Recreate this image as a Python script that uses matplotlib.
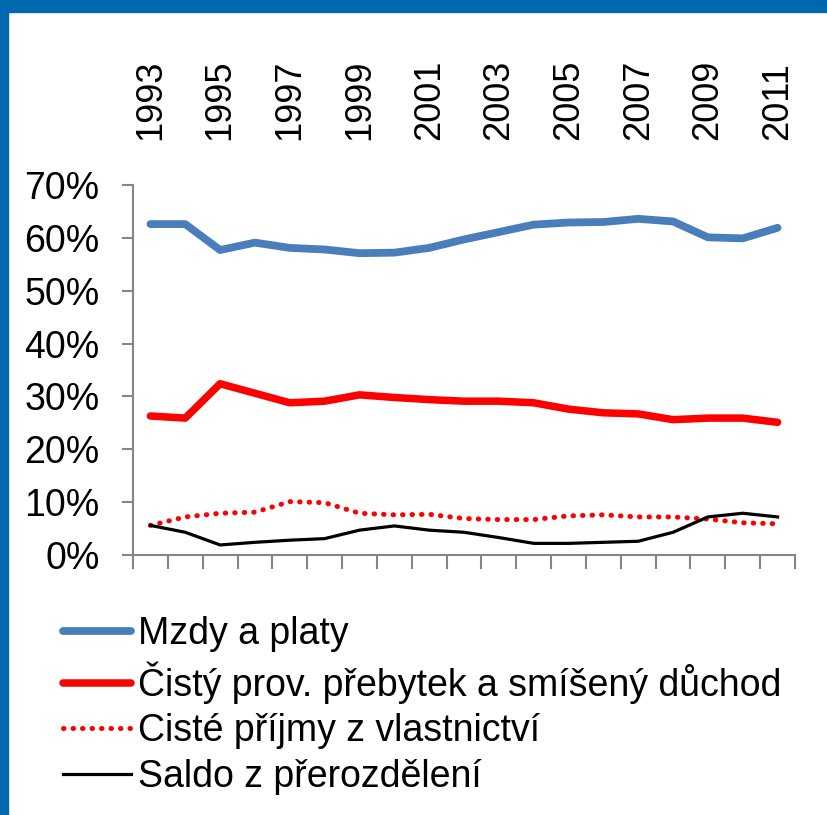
import numpy as np
import matplotlib
matplotlib.use("Agg")
import matplotlib.pyplot as plt
from matplotlib.patches import Rectangle

# ---------------- Data ----------------
years = list(range(1993, 2012))
mzdy = [62.6, 62.6, 57.7, 59.1, 58.1, 57.8, 57.1, 57.2, 58.1, 59.7,
        61.1, 62.5, 62.9, 63.0, 63.6, 63.1, 60.1, 59.9, 61.9]
prebytek = [26.3, 25.9, 32.4, 30.6, 28.8, 29.1, 30.3, 29.8, 29.4, 29.1,
            29.1, 28.8, 27.6, 26.9, 26.7, 25.6, 25.9, 25.9, 25.1]
vlastnictvi = [5.6, 7.2, 7.9, 8.1, 10.1, 9.9, 7.9, 7.6, 7.7, 6.9,
               6.7, 6.7, 7.4, 7.6, 7.2, 7.2, 6.8, 6.1, 5.9]
saldo = [5.6, 4.3, 1.9, 2.4, 2.8, 3.1, 4.7, 5.5, 4.7, 4.3,
         3.3, 2.2, 2.2, 2.4, 2.6, 4.3, 7.2, 7.9, 7.2]
labels = ["Mzdy a platy",
          "Čistý prov. přebytek a smíšený důchod",
          "Cisté příjmy z vlastnictví",
          "Saldo z přerozdělení"]

plt.rcParams['font.family'] = ['Liberation Sans', 'DejaVu Sans']
FS = 27

# ---------------- Figure ----------------
fig = plt.figure(figsize=(8.28, 8.15), dpi=100)
W, H = 828, 815
fig.patches.append(Rectangle((0, 1 - 12 / H), 1, 12 / H, transform=fig.transFigure,
                             color="#0068AF", zorder=0))
fig.patches.append(Rectangle((0, 0), 8 / W, 1, transform=fig.transFigure,
                             color="#0068AF", zorder=0))

ax = fig.add_axes([133 / W, 1 - 555 / H, (795 - 133) / W, (555 - 185) / H])
x = np.arange(len(years))

l1, = ax.plot(x, mzdy, color="#4A7EBB", lw=5.6, solid_capstyle="round")
l2, = ax.plot(x, prebytek, color="#FF0000", lw=5.4, solid_capstyle="round")
l3, = ax.plot(x, vlastnictvi, color="#FF0000", lw=3.6, linestyle=(0, (0.1, 1.8)),
              dash_capstyle="round")
l4, = ax.plot(x, saldo, color="black", lw=2.3)

ax.set_xlim(-0.5, len(years) - 0.5)
ax.set_ylim(0, 70)
ax.set_yticks(np.arange(0, 71, 10))
ax.set_yticklabels([f"{v}%" for v in range(0, 71, 10)])

# year labels on top, boundary ticks at bottom
ax.set_xticks(x[::2])
ax.set_xticklabels([str(y) for y in years[::2]])
ax.set_xticks(np.arange(-0.5, len(years), 1), minor=True)
ax.tick_params(axis="x", which="major", bottom=False, labelbottom=False,
               top=False, labeltop=True, labelrotation=90, labelsize=FS - 1, pad=29)
ax.tick_params(axis="x", which="minor", bottom=True, length=10, width=1.5,
               color="#868686")
ax.tick_params(axis="y", length=8, width=1.5, color="#868686", labelsize=FS, pad=16)

for s in ["top", "right"]:
    ax.spines[s].set_visible(False)
for s in ["left", "bottom"]:
    ax.spines[s].set_color("#868686")
    ax.spines[s].set_linewidth(1.5)

fig.legend([l1, l2, l3, l4], labels, loc="upper left",
           bbox_to_anchor=(63 / W, 1 - 616 / H), frameon=False, fontsize=FS,
           handlelength=1.8, handletextpad=0.2, labelspacing=0.25,
           borderaxespad=0, borderpad=0)

fig.savefig("out.png", dpi=100)
